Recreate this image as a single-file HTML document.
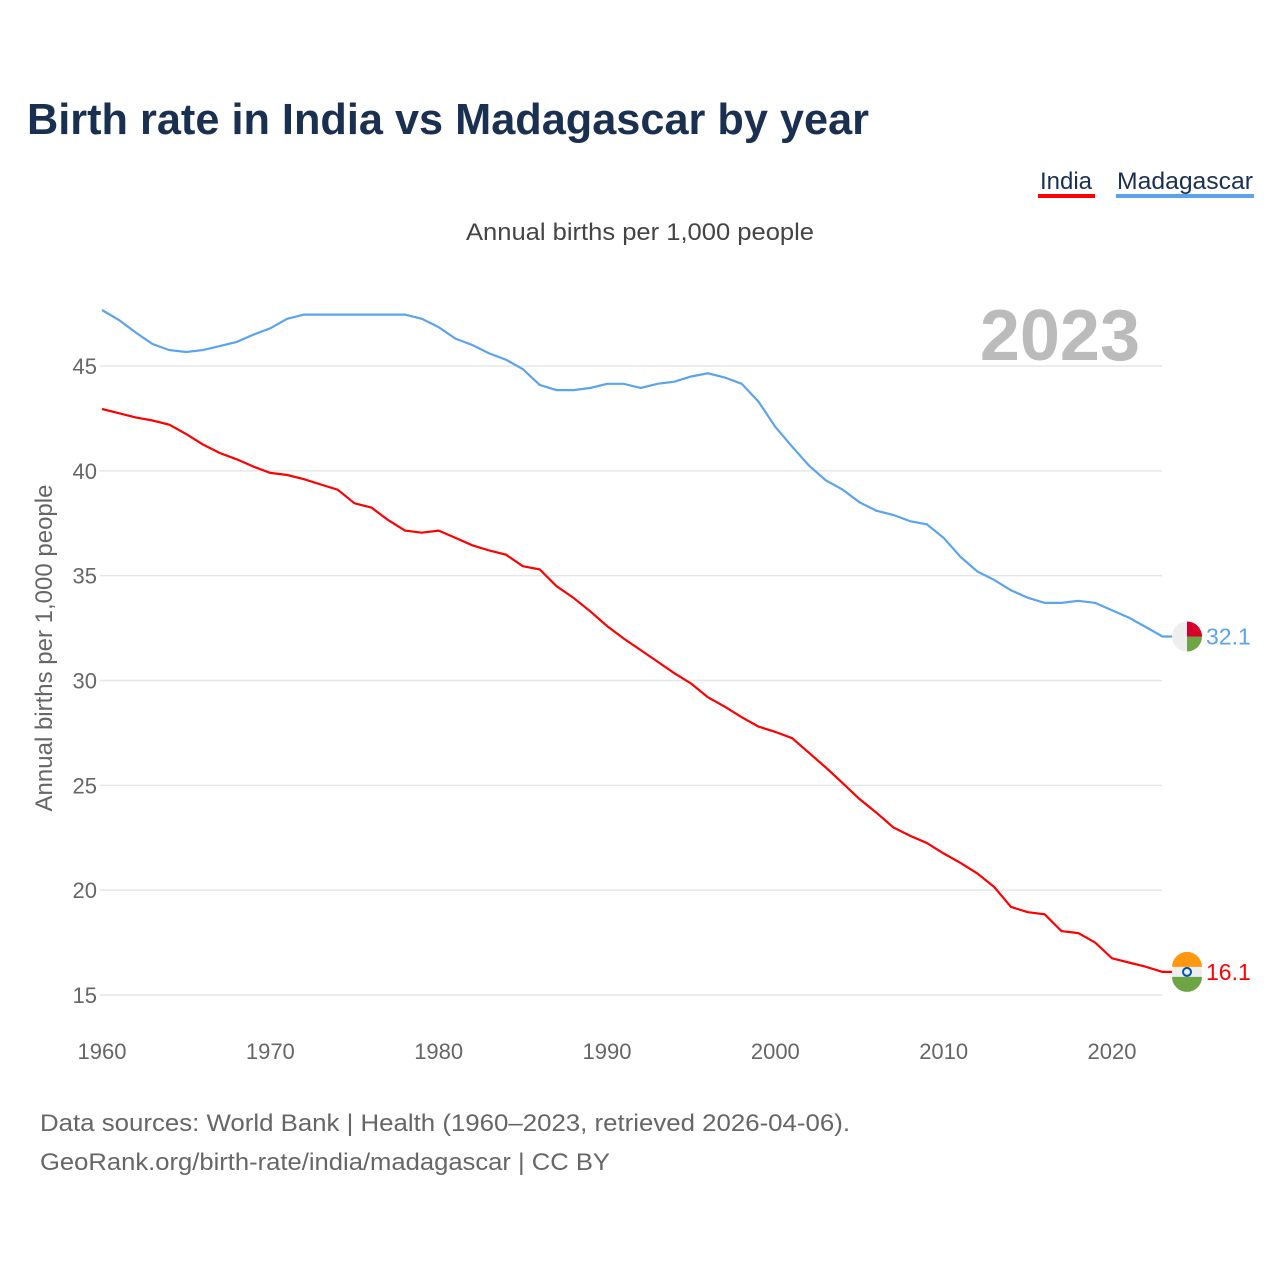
<!DOCTYPE html>
<html><head><meta charset="utf-8"><style>
body{margin:0;background:#fff;font-family:"Liberation Sans",sans-serif;}
svg text{font-family:"Liberation Sans",sans-serif;}
</style></head><body>
<svg id="chart" width="1280" height="1280" xmlns="http://www.w3.org/2000/svg">
<text x="27" y="134" font-size="44" font-weight="bold" fill="#1a3050" textLength="842" lengthAdjust="spacingAndGlyphs">Birth rate in India vs Madagascar by year</text>
<g>
<text x="1066" y="189" font-size="24" fill="#1a3050" text-anchor="middle">India</text>
<rect x="1038" y="194" width="57" height="4" fill="#ff0000"/>
<text x="1185" y="189" font-size="24" fill="#1a3050" text-anchor="middle" textLength="136" lengthAdjust="spacingAndGlyphs">Madagascar</text>
<rect x="1116" y="194" width="138" height="4" fill="#5ba4ec"/>
</g>
<text x="466" y="240" font-size="24" fill="#444" textLength="348" lengthAdjust="spacingAndGlyphs">Annual births per 1,000 people</text>
<text x="1140" y="360" font-size="72" font-weight="bold" fill="#bbb" text-anchor="end">2023</text>
<text transform="translate(52,648) rotate(-90)" font-size="24" fill="#666" text-anchor="middle">Annual births per 1,000 people</text>
<g id="grid"></g><g id="xt"></g><g id="lines"></g>
<text x="40" y="1131" font-size="24" fill="#666" textLength="810" lengthAdjust="spacingAndGlyphs">Data sources: World Bank | Health (1960–2023, retrieved 2026-04-06).</text>
<text x="40" y="1170" font-size="24" fill="#666" textLength="570" lengthAdjust="spacingAndGlyphs">GeoRank.org/birth-rate/india/madagascar | CC BY</text>
</svg>
<script>
const years=[];for(let y=1960;y<=2023;y++)years.push(y);
const madagascar=[47.67,47.2,46.6,46.05,45.76,45.67,45.76,45.95,46.15,46.5,46.8,47.25,47.45,47.45,47.45,47.45,47.45,47.45,47.45,47.25,46.85,46.3,46.0,45.6,45.3,44.85,44.1,43.85,43.85,43.95,44.15,44.15,43.95,44.15,44.25,44.5,44.65,44.45,44.15,43.3,42.1,41.15,40.25,39.55,39.1,38.5,38.1,37.9,37.6,37.45,36.8,35.9,35.2,34.8,34.3,33.95,33.7,33.7,33.8,33.7,33.35,33.0,32.55,32.1];
const india=[42.95,42.75,42.55,42.4,42.2,41.75,41.25,40.85,40.55,40.2,39.9,39.8,39.6,39.35,39.1,38.45,38.25,37.65,37.15,37.05,37.15,36.8,36.45,36.2,36.0,35.45,35.3,34.5,33.95,33.3,32.6,32.0,31.45,30.9,30.35,29.85,29.2,28.75,28.25,27.8,27.55,27.25,26.55,25.85,25.1,24.35,23.7,23.0,22.6,22.25,21.75,21.3,20.8,20.15,19.2,18.95,18.85,18.05,17.95,17.5,16.75,16.55,16.35,16.1];
const yTicks=[15,20,25,30,35,40,45];
const xTicks=[1960,1970,1980,1990,2000,2010,2020];
const NS="http://www.w3.org/2000/svg";
const X=y=>102+(y-1960)*(1010/60);
const Y=v=>995-(v-15)*(629/30);
function mk(t,a,p){const e=document.createElementNS(NS,t);for(const k in a)e.setAttribute(k,a[k]);p.appendChild(e);return e;}
const grid=document.getElementById('grid');
yTicks.forEach(v=>{
 const l=mk('line',{x1:100,x2:1162,y1:Y(v),y2:Y(v),stroke:'#e6e6e6','stroke-width':1.5},grid);
 
 
 const t=mk('text',{x:97,y:Y(v)+8,'font-size':22,fill:'#666','text-anchor':'end'},grid);
 t.textContent=v;
 
 
});
const xt=document.getElementById('xt');
xTicks.forEach(v=>{
 const t=mk('text',{x:X(v),y:1059,'font-size':22,fill:'#666','text-anchor':'middle'},xt);
 t.textContent=v;
 
 
});
const lines=document.getElementById('lines');
function series(vals,col,name){
 const d=vals.map((v,i)=>(i?'L':'M')+X(years[i]).toFixed(1)+','+Y(v).toFixed(1)).join('');
 const p=mk('path',{d:d+'L'+(X(2023)+10)+','+Y(vals[vals.length-1]).toFixed(1),fill:'none',stroke:col,'stroke-width':2.2},lines);
 
 
 const last=vals[vals.length-1];const cy=Y(last);
 const t=mk('text',{x:1206,y:cy+8,'font-size':23,fill:col},lines);
 t.textContent=last.toFixed(1);
 
 
 return cy;
}
const cm=series(madagascar,'#5ba4ec','madagascar');
const ci=series(india,'#ff0000','india');
let g=mk('g',{},lines);


mk('circle',{cx:1187,cy:cm,r:15,fill:'#eee'},g);
mk('path',{d:`M1187,${cm-15}A15,15 0 0 1 1202,${cm}L1187,${cm}Z`,fill:'#d7002a'},g);
mk('path',{d:`M1187,${cm}L1202,${cm}A15,15 0 0 1 1187,${cm+15}Z`,fill:'#6da544'},g);
g=mk('g',{},lines);


mk('circle',{cx:1187,cy:ci,r:15,fill:'#eee'},g);
mk('path',{d:`M1172,${ci-5}A15,15 0 0 1 1202,${ci-5}Z`,fill:'#ff9811'},g);
mk('path',{d:`M1172,${ci+5}L1202,${ci+5}A15,15 0 0 1 1172,${ci+5}Z`,fill:'#6da544'},g);
mk('circle',{cx:1187,cy:ci,r:4,fill:'none',stroke:'#0052b4','stroke-width':2},g);
</script>
</body></html>
